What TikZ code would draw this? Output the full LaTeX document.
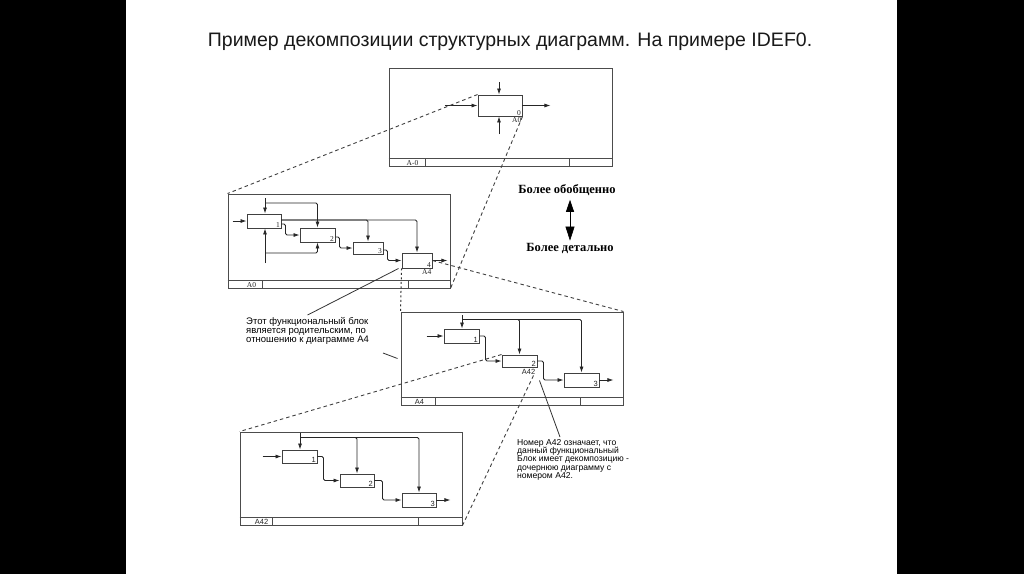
\documentclass[tikz,border=0pt]{standalone}
\usepackage{fontspec}
\setmainfont{Liberation Serif}
\setsansfont{Liberation Sans}
\usepackage{tikz}
\usetikzlibrary{arrows.meta, positioning}

\begin{document}
\begin{tikzpicture}
  [
    x=1pt, y=-1pt,
    Frame/.style={rectangle, draw=black!70, line width=0.95pt, inner sep=0pt},
    Block/.style={rectangle, draw=black!75, line width=0.95pt, inner sep=0pt},
    Rule/.style={draw=black!70, line width=0.95pt},
    Arr/.style={-{Latex[length=6pt, width=4pt]}, draw=black!85, line width=0.8pt, rounded corners=1.5pt},
    Dash/.style={draw=black!75, line width=0.9pt, dash pattern=on 3.5pt off 3pt},
    Dot/.style={draw=black!80, line width=1pt, dash pattern=on 2pt off 2.5pt},
    Lead/.style={draw=black!80, line width=0.8pt},
    Num/.style={font=\fontsize{7.5}{7.5}\selectfont, inner sep=0pt, text=black!85},
    Tag/.style={font=\sffamily\fontsize{7.5}{7.5}\selectfont, inner sep=0pt, text=black!85},
    Side/.style={font=\bfseries\fontsize{12.5}{13}\selectfont, inner sep=1pt, text=black}
  ]
  \useasboundingbox (0,0) rectangle (1024,574);
  \fill[white] (0,0) rectangle (1024,574);
  \fill[black] (0,0) rectangle (126,574);
  \fill[black] (897,0) rectangle (1024,574);

  % Title
  \node[font=\sffamily\fontsize{19.5}{20}\selectfont, anchor=base, text=black!90] (title) at (510,46)
    {Пример декомпозиции структурных диаграмм. На примере IDEF0.};

  % Frames
  \node[Frame, minimum width=223, minimum height=98] (frT) at (500.5,117) {};
  \node[Frame, minimum width=222, minimum height=94] (frA0) at (339,241) {};
  \node[Frame, minimum width=222, minimum height=93] (frA4) at (512,358.5) {};
  \node[Frame, minimum width=222, minimum height=93] (frA42) at (351,478.5) {};
  \draw[Rule] ([yshift=8]frT.south west) -- ([yshift=8]frT.south east);
  \draw[Rule] ([xshift=37]frT.south west) -- ++(0,-8);
  \draw[Rule] ([xshift=-43]frT.south east) -- ++(0,-8);
  \draw[Rule] ([yshift=8]frA0.south west) -- ([yshift=8]frA0.south east);
  \draw[Rule] ([xshift=35]frA0.south west) -- ++(0,-8);
  \draw[Rule] ([xshift=-42]frA0.south east) -- ++(0,-8);
  \draw[Rule] ([yshift=8]frA4.south west) -- ([yshift=8]frA4.south east);
  \draw[Rule] ([xshift=35]frA4.south west) -- ++(0,-8);
  \draw[Rule] ([xshift=-43]frA4.south east) -- ++(0,-8);
  \draw[Rule] ([yshift=8]frA42.south west) -- ([yshift=8]frA42.south east);
  \draw[Rule] ([xshift=33]frA42.south west) -- ++(0,-8);
  \draw[Rule] ([xshift=-44]frA42.south east) -- ++(0,-8);
  \node[Num] at ([xshift=24,yshift=3.5]frT.south west) {A-0};
  \node[Num] at ([xshift=24,yshift=3.5]frA0.south west) {A0};
  \node[Tag] at ([xshift=19,yshift=3.5]frA4.south west) {A4};
  \node[Tag] at ([xshift=22,yshift=3.5]frA42.south west) {A42};

  % Blocks
  \node[Block, minimum width=44, minimum height=21] (b0) at (500,105.5) {};
  \node[Block, minimum width=34, minimum height=14] (a1) at (264,221) {};
  \node[Block, minimum width=35, minimum height=14] (a2) at (317.5,235) {};
  \node[Block, minimum width=30, minimum height=12] (a3) at (368,248) {};
  \node[Block, minimum width=30, minimum height=15] (a4) at (417,260.5) {};
  \node[Block, minimum width=35, minimum height=14] (c1) at (461.5,336) {};
  \node[Block, minimum width=35, minimum height=12] (c2) at (519.5,361) {};
  \node[Block, minimum width=35, minimum height=14] (c3) at (581.5,380) {};
  \node[Block, minimum width=35, minimum height=13] (d1) at (299.5,456.5) {};
  \node[Block, minimum width=34, minimum height=13] (d2) at (357,480.5) {};
  \node[Block, minimum width=34, minimum height=14] (d3) at (419,500) {};
  \node[Num, anchor=south east] at ([xshift=-1.5,yshift=1]b0.south east) {0};
  \node[Num, anchor=north east] at ([xshift=-1,yshift=-1]b0.south east) {A0};
  \node[Num, anchor=south east] at ([xshift=-1.5,yshift=1]a1.south east) {1};
  \node[Num, anchor=south east] at ([xshift=-1.5,yshift=1]a2.south east) {2};
  \node[Num, anchor=south east] at ([xshift=-1.5,yshift=1]a3.south east) {3};
  \node[Num, anchor=south east] at ([xshift=-1.5,yshift=1]a4.south east) {4};
  \node[Num, anchor=north east] at ([xshift=-1,yshift=-1]a4.south east) {A4};
  \node[Tag, anchor=south east] at ([xshift=-1.5,yshift=1]c1.south east) {1};
  \node[Tag, anchor=south east] at ([xshift=-1.5,yshift=1]c2.south east) {2};
  \node[Tag, anchor=south east] at ([xshift=-1.5,yshift=1]c3.south east) {3};
  \node[Tag, anchor=north east] at ([xshift=-2,yshift=-1.5]c2.south east) {A42};
  \node[Tag, anchor=south east] at ([xshift=-1.5,yshift=1]d1.south east) {1};
  \node[Tag, anchor=south east] at ([xshift=-1.5,yshift=1]d2.south east) {2};
  \node[Tag, anchor=south east] at ([xshift=-1.5,yshift=1]d3.south east) {3};

  % Side texts
  \node[Side] (gen) at (567,190) {Более обобщенно};
  \node[Side] (det) at (570,248) {Более детально};
  \node[font=\sffamily\fontsize{9.5}{9.3}\selectfont, align=left, inner sep=0pt, text=black,
    anchor=north west] (note1) at (246,317)
    {Этот функциональный блок\\является родительским, по\\отношению к диаграмме А4};
  \node[font=\sffamily\fontsize{8.6}{8.3}\selectfont, align=left, inner sep=0pt, text=black,
    anchor=north west] (note2) at (517,439)
    {Номер А42 означает, что\\данный функциональный\\Блок имеет декомпозицию -\\дочернюю диаграмму с\\номером А42.};

  % Coordinates
  \coordinate (b0c) at (499,82);
  \coordinate (b0m) at (499,134);
  \coordinate (a1c) at (265,198);
  \coordinate (a1m) at (265,263);
  \coordinate (c1c) at (462,315);
  \coordinate (d1c) at (300,433);
  \coordinate (p1) at (383,353);

  % Lines
  \draw[Arr] (b0c) -- (b0c |- b0.north);
  \draw[Arr] (b0m) -- (b0m |- b0.south);
  \draw[Arr] ([xshift=-33]b0.west) -- (b0.west);
  \draw[Arr] (b0.east) -- ++(28,0);

  \draw[Arr] ([xshift=-14]a1.west) -- (a1.west);
  \draw[Arr] (a1c) -- (a1c |- a1.north);
  \draw[Arr] ([yshift=-5]a1c) -| (a2.north);
  \draw[Arr] (a1m) -- (a1m |- a1.south);
  \draw[Arr] ([yshift=10]a1m) -| (a2.south);
  \draw[Arr] ([yshift=1]a1.east) -| (a4.north);
  \draw[Arr] ([yshift=1]a1.east) -| (a3.north);
  \draw[Arr] ([yshift=-3]a1.east) -- ++(4,0) |- (a2.west);
  \draw[Arr] ([yshift=-2]a2.east) -- ++(4,0) |- (a3.west);
  \draw[Arr] ([yshift=-2]a3.east) -- ++(4,0) |- (a4.west);
  \draw[Arr] (a4.east) -- ++(15,0);

  \draw[Arr] ([xshift=-17]c1.west) -- (c1.west);
  \draw[Arr] (c1c) -- (c1c |- c1.north);
  \draw[Arr] ([yshift=-4.5]c1c) -| (c3.north);
  \draw[Arr] ([yshift=-4.5]c1c) -| (c2.north);
  \draw[Arr] (c1.east) -- ++(6,0) |- (c2.west);
  \draw[Arr] (c2.east) -- ++(6,0) |- (c3.west);
  \draw[Arr] (c3.east) -- ++(14,0);

  \draw[Arr] ([xshift=-19]d1.west) -- (d1.west);
  \draw[Arr] (d1c) -- (d1c |- d1.north);
  \draw[Arr] ([yshift=-4.5]d1c) -| (d3.north);
  \draw[Arr] ([yshift=-4.5]d1c) -| (d2.north);
  \draw[Arr] (d1.east) -- ++(6,0) |- (d2.west);
  \draw[Arr] (d2.east) -- ++(8,0) |- (d3.west);
  \draw[Arr] (d3.east) -- ++(14,0);

  \draw[Dash] (b0.north west) -- (frA0.north west);
  \draw[Dash] (b0.south east) -- (frA0.south east);
  \draw[Dot] (a4.south west) -- (frA4.north west);
  \draw[Dash] (a4.east) -- (frA4.north east);
  \draw[Dash] (c2.north west) -- (frA42.north west);
  \draw[Dash] ([xshift=-4,yshift=-8]c2.south east) -- (frA42.south east);

  \draw[Lead] ([xshift=-3]a4.south west) -- ([yshift=2]note1.north);
  \draw[Lead] (p1) -- ([xshift=-3]frA4.west);
  \draw[Lead] ([xshift=2,yshift=-13]c2.south east) -- ([xshift=43,yshift=2]note2.north west);

  \draw[{Triangle[width=8pt, length=12pt]}-{Triangle[width=9pt, length=14pt]}, line width=0.7pt]
    ([yshift=-3]gen.south -| det.north) -- ([yshift=1]det.north);
\end{tikzpicture}
\end{document}
